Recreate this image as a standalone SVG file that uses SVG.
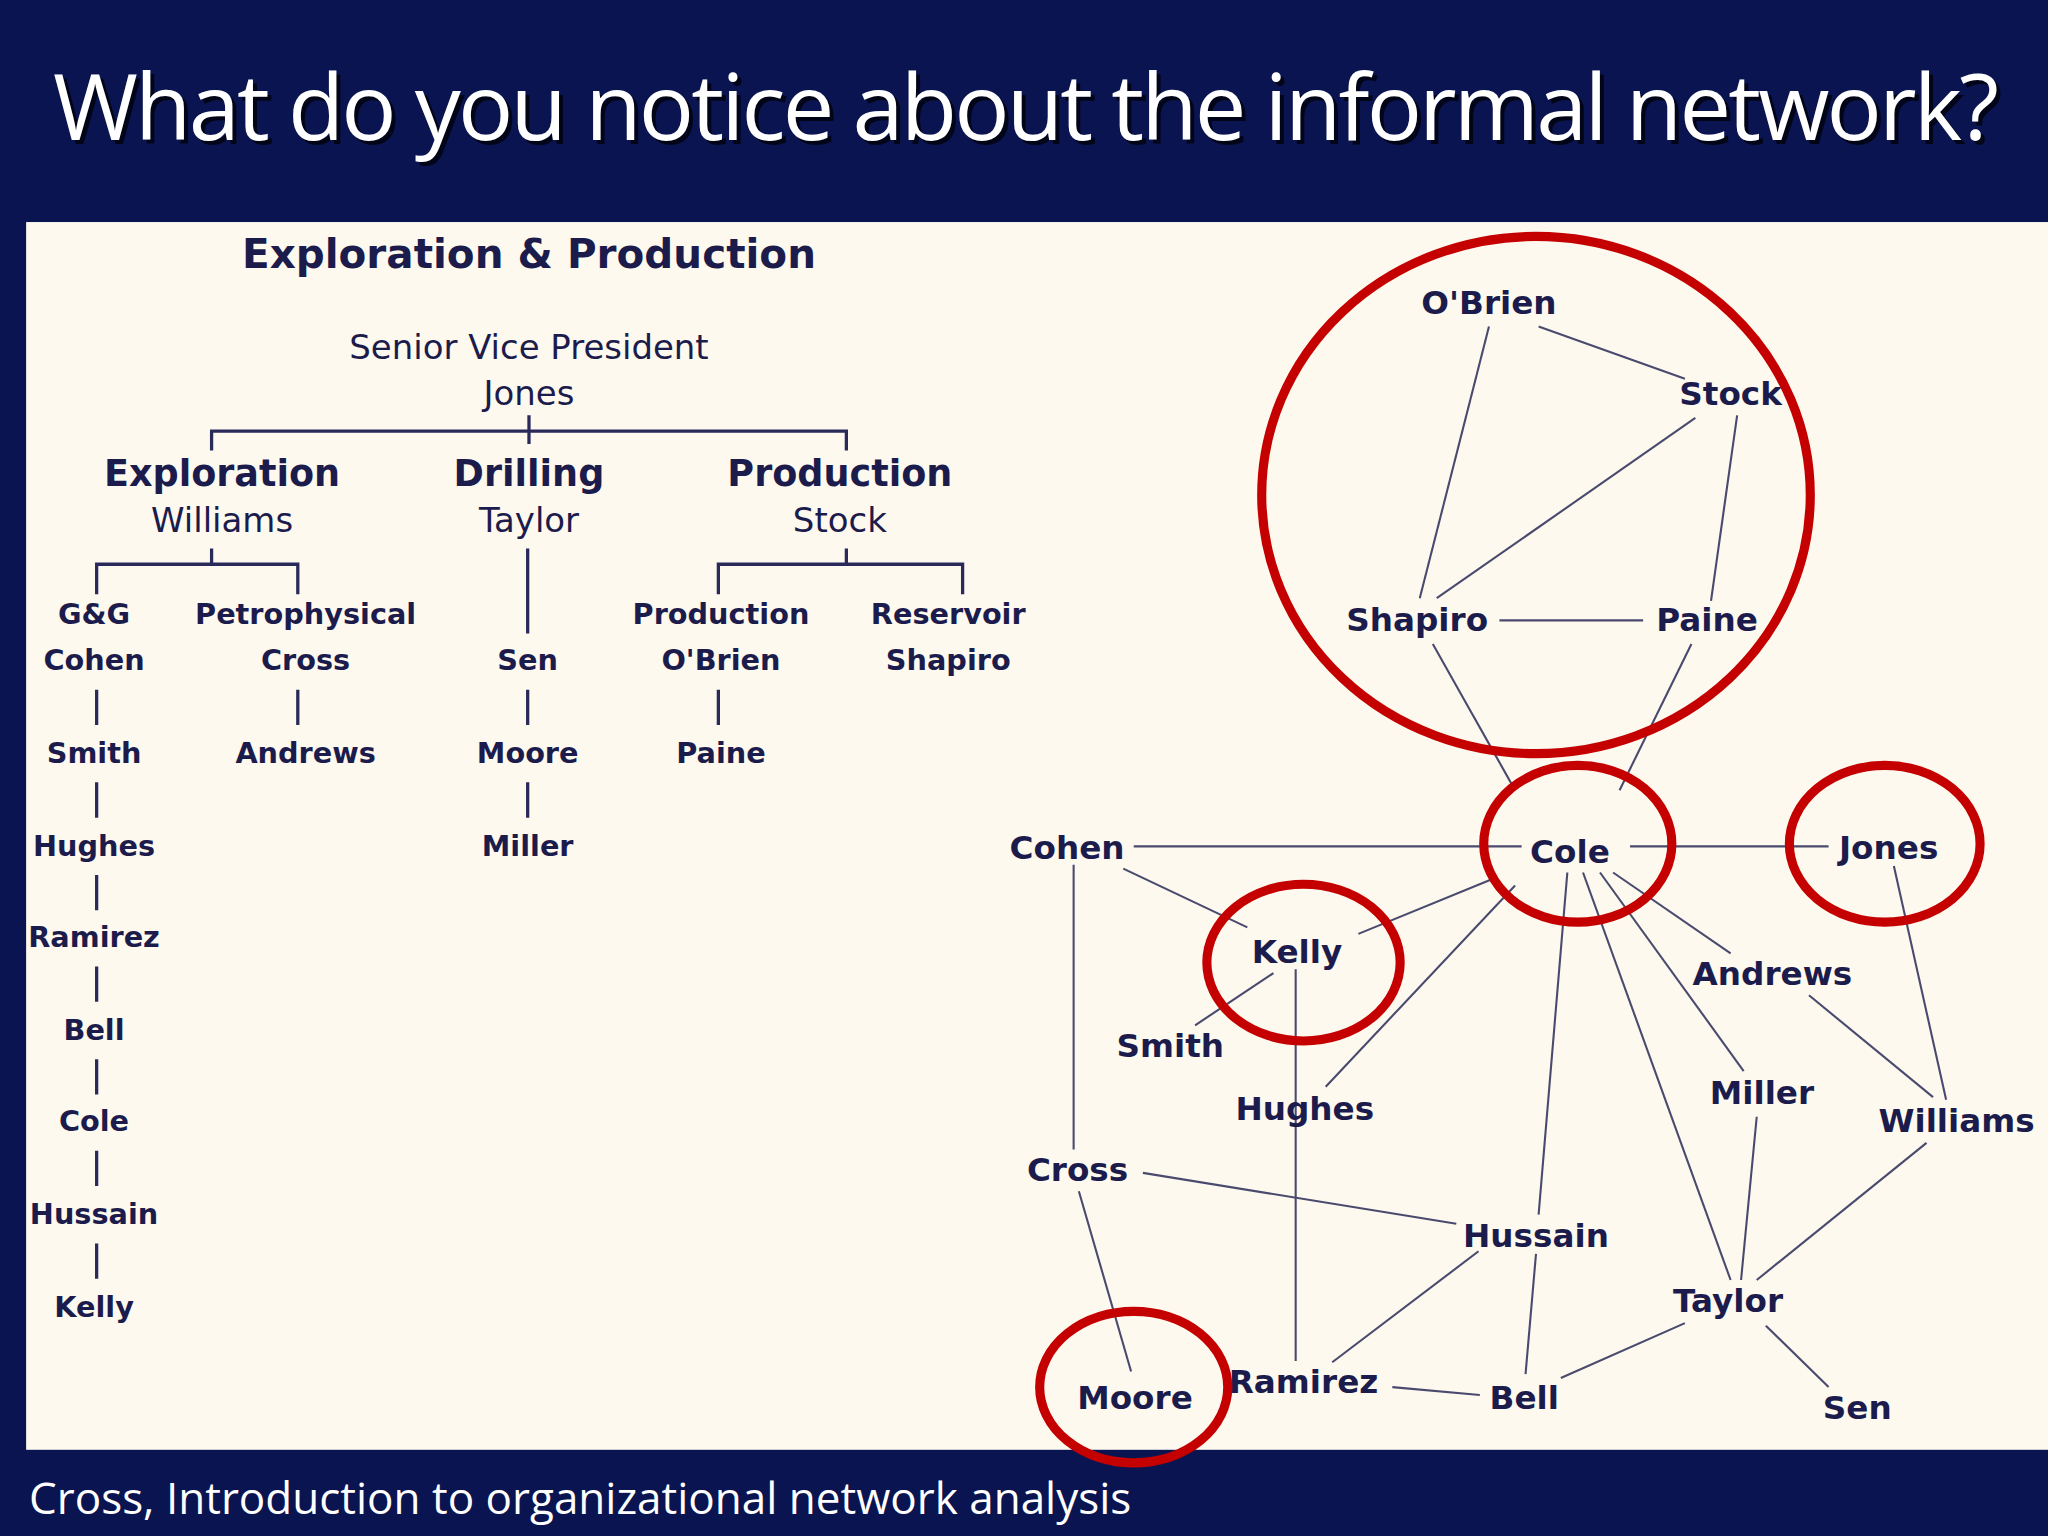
<svg xmlns="http://www.w3.org/2000/svg" width="2048" height="1536" viewBox="0 0 2048 1536">
<style>
.t{font-family:"DejaVu Sans",Verdana,sans-serif;fill:#1c1c4c;text-anchor:middle}
.s{font-size:22px;font-weight:bold}
.m{font-size:26px}
.b{font-size:28px;font-weight:bold}
.n{font-family:"DejaVu Sans",Verdana,sans-serif;fill:#1c1c4c;text-anchor:middle;font-size:25px;font-weight:bold;dominant-baseline:central}
.l{stroke:#2a2a5a;stroke-width:2.5;fill:none}
.e{stroke:#4a4a6e;stroke-width:1.6}
.r{stroke:#c40000;stroke-width:7;fill:none}
</style>
<rect width="2048" height="1536" fill="#0a1450"/>
<text x="1026" y="140" font-family="Open Sans,Liberation Sans,sans-serif" font-size="92" fill="#000" text-anchor="middle" textLength="1946" opacity="0.7" transform="translate(4,4)">What do you notice about the informal network?</text>
<text x="1026" y="140" font-family="Open Sans,Liberation Sans,sans-serif" font-size="92" fill="#fff" text-anchor="middle" textLength="1946">What do you notice about the informal network?</text>
<text x="29" y="1514" font-family="Open Sans,Liberation Sans,sans-serif" font-size="44" fill="#fff">Cross, Introduction to organizational network analysis</text>
<g transform="scale(1.30612)">
<rect x="20" y="170" width="1548" height="940" fill="#fdf9ef"/>
<g id="orgchart">
<text class="t" x="405" y="205" font-size="31" font-weight="bold">Exploration &amp; Production</text>
<text class="t m" x="405" y="275">Senior Vice President</text>
<text class="t m" x="405" y="310">Jones</text>
<path class="l" d="M405 318V340M162 345V330H648V345M162 420V432M74 455V432H228V455M404 420V485M648 420V432M550 455V432H737V455"/>
<text class="t b" x="170" y="372">Exploration</text><text class="t m" x="170" y="407">Williams</text>
<text class="t b" x="405" y="372">Drilling</text><text class="t m" x="405" y="407">Taylor</text>
<text class="t b" x="643" y="372">Production</text><text class="t m" x="643" y="407">Stock</text>
<text class="t s" x="72" y="478">G&amp;G</text><text class="t s" x="72" y="513" font-weight="normal">Cohen</text>
<text class="t s" x="234" y="478">Petrophysical</text><text class="t s" x="234" y="513" font-weight="normal">Cross</text>
<text class="t s" x="552" y="478">Production</text><text class="t s" x="552" y="513" font-weight="normal">O'Brien</text>
<text class="t s" x="726" y="478">Reservoir</text><text class="t s" x="726" y="513" font-weight="normal">Shapiro</text>
<text class="t s" x="404" y="513">Sen</text>
<g class="t s"><text x="72" y="584">Smith</text><text x="72" y="655">Hughes</text><text x="72" y="725">Ramirez</text><text x="72" y="796">Bell</text><text x="72" y="866">Cole</text><text x="72" y="937">Hussain</text><text x="72" y="1008">Kelly</text>
<text x="234" y="584">Andrews</text><text x="404" y="584">Moore</text><text x="404" y="655">Miller</text><text x="552" y="584">Paine</text></g>
<path class="l" d="M74 528V555M74 599V626M74 670V697M74 740V767M74 811V838M74 881V908M74 952V979M228 528V555M404 528V555M404 599V626M550 528V555"/>
</g>
<g id="connectors" class="e">
<line x1="1178" y1="250" x2="1290" y2="290"/>
<line x1="1140" y1="250" x2="1087" y2="458"/>
<line x1="1298" y1="320" x2="1100" y2="458"/>
<line x1="1330" y1="318" x2="1310" y2="460"/>
<line x1="1148" y1="475" x2="1258" y2="475"/>
<line x1="1097" y1="493" x2="1160" y2="605"/>
<line x1="1295" y1="493" x2="1240" y2="605"/>
<line x1="868" y1="648" x2="1165" y2="648"/>
<line x1="1248" y1="648" x2="1400" y2="648"/>
<line x1="860" y1="665" x2="955" y2="710"/>
<line x1="1145" y1="672" x2="1040" y2="715"/>
<line x1="1160" y1="678" x2="1015" y2="832"/>
<line x1="1235" y1="668" x2="1325" y2="730"/>
<line x1="1225" y1="668" x2="1335" y2="820"/>
<line x1="1200" y1="668" x2="1178" y2="930"/>
<line x1="1212" y1="668" x2="1325" y2="980"/>
<line x1="975" y1="745" x2="915" y2="785"/>
<line x1="992" y1="742" x2="992" y2="1042"/>
<line x1="822" y1="662" x2="822" y2="880"/>
<line x1="875" y1="898" x2="1115" y2="937"/>
<line x1="826" y1="912" x2="866" y2="1050"/>
<line x1="1132" y1="958" x2="1020" y2="1043"/>
<line x1="1176" y1="960" x2="1168" y2="1052"/>
<line x1="1066" y1="1062" x2="1133" y2="1068"/>
<line x1="1195" y1="1055" x2="1290" y2="1013"/>
<line x1="1352" y1="1015" x2="1400" y2="1062"/>
<line x1="1333" y1="980" x2="1345" y2="855"/>
<line x1="1345" y1="980" x2="1475" y2="875"/>
<line x1="1385" y1="762" x2="1480" y2="840"/>
<line x1="1450" y1="663" x2="1490" y2="842"/>
</g>
<g id="n-obrien"><text class="n" x="1140" y="232">O'Brien</text></g>
<g id="n-stock"><text class="n" x="1325" y="302">Stock</text></g>
<g id="n-shapiro"><text class="n" x="1085" y="475">Shapiro</text></g>
<g id="n-paine"><text class="n" x="1307" y="475">Paine</text></g>
<g id="n-cole"><text class="n" x="1202" y="652">Cole</text></g>
<g id="n-cohen"><text class="n" x="817" y="649">Cohen</text></g>
<g id="n-jones"><text class="n" x="1446" y="649">Jones</text></g>
<g id="n-kelly"><text class="n" x="993" y="729">Kelly</text></g>
<g id="n-andrews"><text class="n" x="1357" y="746">Andrews</text></g>
<g id="n-smith"><text class="n" x="896" y="801">Smith</text></g>
<g id="n-hughes"><text class="n" x="999" y="849">Hughes</text></g>
<g id="n-miller"><text class="n" x="1349" y="837">Miller</text></g>
<g id="n-williams"><text class="n" x="1498" y="858">Williams</text></g>
<g id="n-cross"><text class="n" x="825" y="896">Cross</text></g>
<g id="n-hussain"><text class="n" x="1176" y="946">Hussain</text></g>
<g id="n-taylor"><text class="n" x="1323" y="996">Taylor</text></g>
<g id="n-moore"><text class="n" x="869" y="1070">Moore</text></g>
<g id="n-ramirez"><text class="n" x="998" y="1058">Ramirez</text></g>
<g id="n-bell"><text class="n" x="1167" y="1070">Bell</text></g>
<g id="n-sen"><text class="n" x="1422" y="1078">Sen</text></g>
<g id="highlights">
<ellipse class="r" cx="1176" cy="379" rx="210" ry="198"/>
<ellipse class="r" cx="1208" cy="646" rx="72" ry="60"/>
<ellipse class="r" cx="1443" cy="646" rx="73" ry="60"/>
<ellipse class="r" cx="998" cy="737" rx="74" ry="60"/>
<ellipse class="r" cx="868" cy="1062" rx="72" ry="58"/>
</g>
</g>
</svg>
